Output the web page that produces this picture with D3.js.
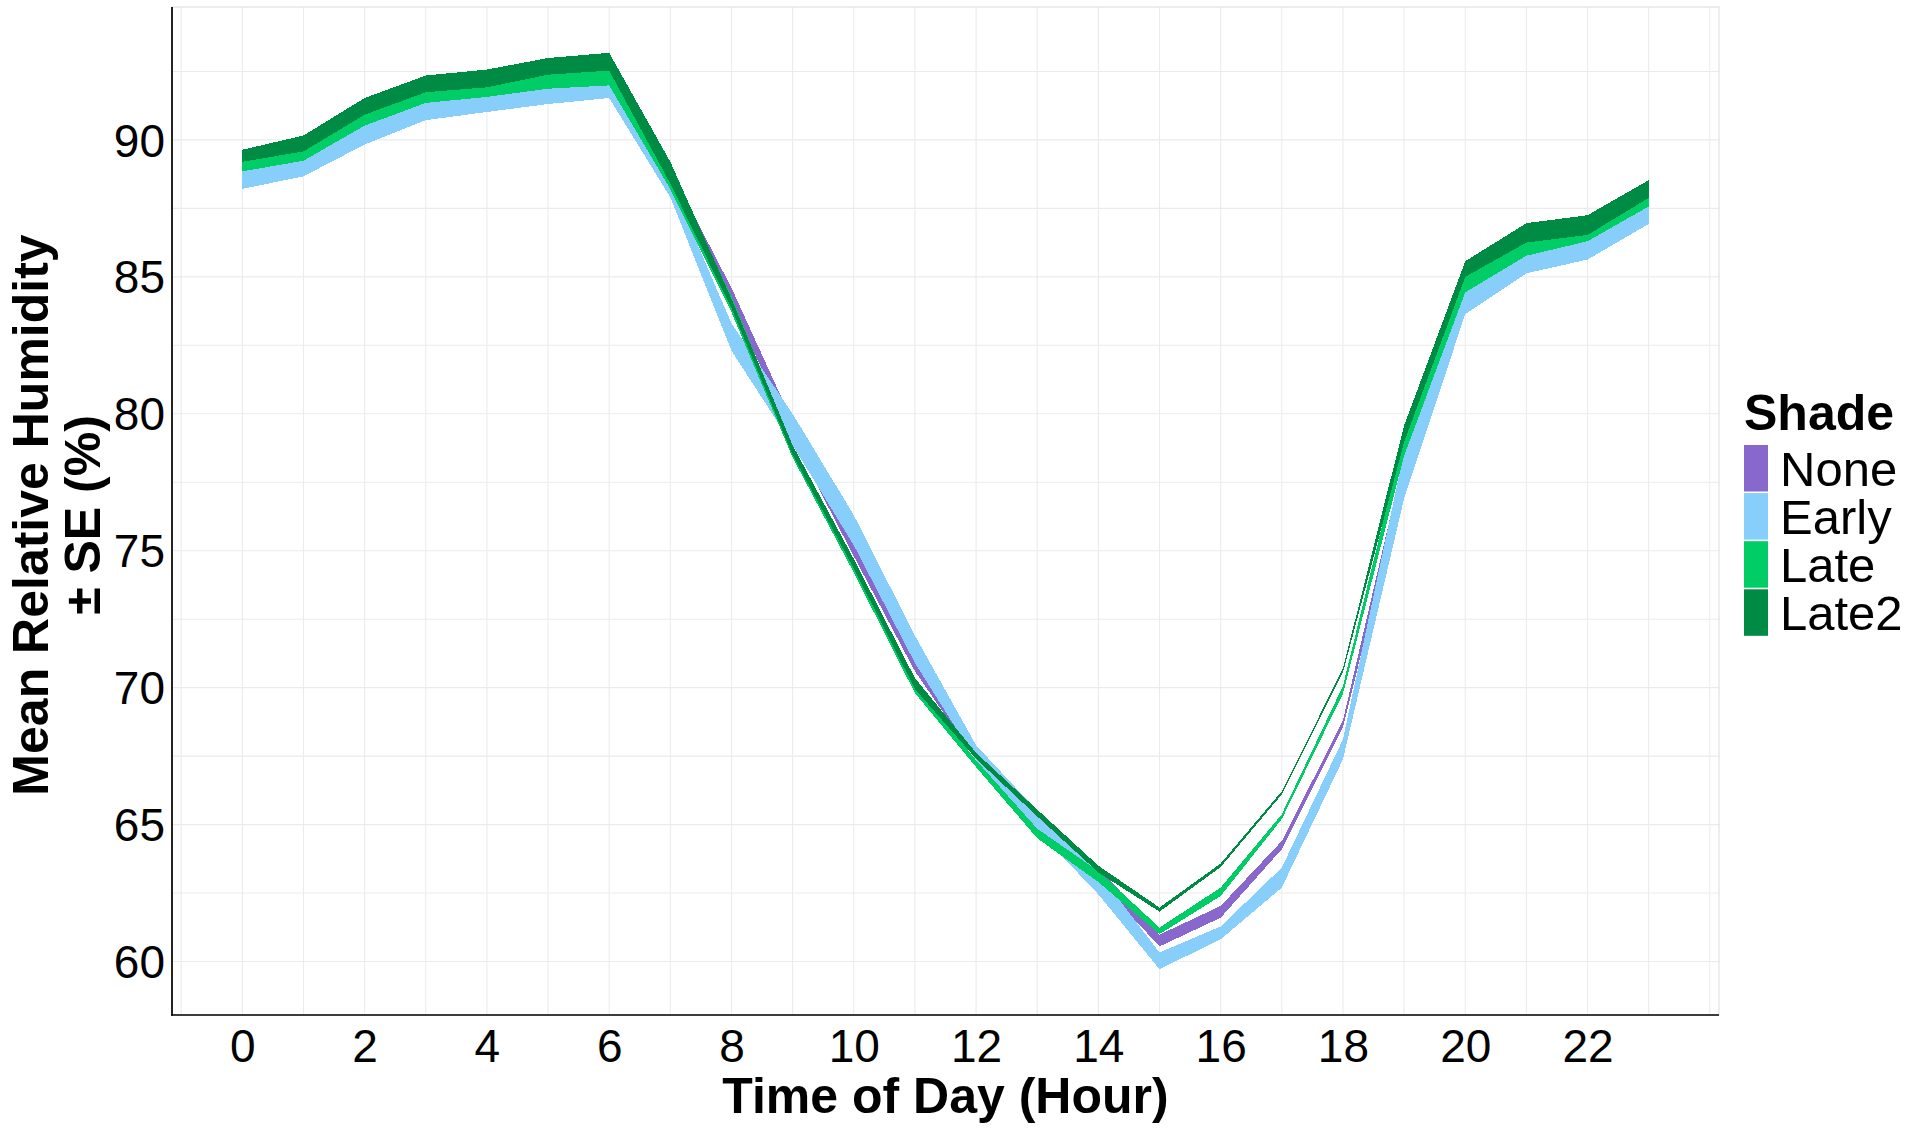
<!DOCTYPE html>
<html>
<head>
<meta charset="utf-8">
<script src="https://cdn.jsdelivr.net/npm/d3@7"></script>
<style>
  html, body { margin: 0; padding: 0; background: #ffffff; }
  svg { display: block; font-family: "Liberation Sans", Arial, sans-serif; }
</style>
</head>
<body>
<svg id="chart" width="1919" height="1128"></svg>
<script>
// ---- data ----
const hours = [0,1,2,3,4,5,6,7,8,9,10,11,12,13,14,15,16,17,18,19,20,21,22,23];
const seriesNames = ["None", "Early", "Late", "Late2"];
const seriesColors = ["#8968CD", "#87CEFA", "#00CD66", "#008B45"];

const noneLow   = [88.5, 88.9, 90.1, 91.0, 91.3, 91.6, 91.8, 88.3, 84.1, 79.1, 74.8, 70.6, 67.35, 65.0, 62.95, 60.55, 61.6, 64.1, 68.54, 77.6, 84.0, 85.4, 85.9, 87.2];
const noneHigh  = [89.1, 89.5, 90.8, 91.6, 91.8, 92.2, 92.4, 88.9, 84.6, 79.7, 75.4, 71.1, 67.75, 65.45, 63.45, 60.98, 62.03, 64.4, 68.8, 78.4, 84.6, 85.9, 86.4, 87.7];

const earlyLow  = [88.21, 88.67, 89.83, 90.72, 91.02, 91.31, 91.53, 87.9, 82.3, 78.85, 75.2, 70.9, 67.35, 64.8, 62.45, 59.72, 60.81, 62.7, 67.38, 76.9, 83.64, 85.13, 85.63, 86.93];
const earlyHigh = [89.0, 89.4, 90.7, 91.5, 91.75, 92.0, 92.2, 88.5, 83.3, 80.0, 76.3, 71.9, 67.9, 65.5, 63.25, 60.33, 61.28, 63.43, 68.11, 78.6, 84.6, 85.95, 86.45, 87.7];

const lateLow   = [88.85, 89.24, 90.52, 91.35, 91.57, 91.87, 91.99, 88.2, 83.7, 78.4, 74.2, 69.8, 67.1, 64.5, 62.9, 61.0, 62.39, 65.2, 69.78, 78.47, 84.43, 85.77, 86.3, 87.57];
const lateHigh  = [89.4, 89.8, 91.1, 91.95, 92.1, 92.55, 92.7, 88.9, 84.3, 78.75, 74.55, 70.15, 67.35, 64.85, 63.3, 61.24, 62.7, 65.38, 70.06, 79.2, 85.2, 86.45, 86.7, 88.05];

const late2Low  = [89.2, 89.58, 90.92, 91.74, 91.92, 92.38, 92.53, 88.4, 83.85, 78.5, 74.35, 69.95, 67.4, 65.3, 63.25, 61.82, 63.45, 66.1, 70.55, 78.96, 85.0, 86.25, 86.53, 87.88];
const late2High = [89.64, 90.16, 91.53, 92.35, 92.57, 92.99, 93.18, 89.2, 84.2, 78.85, 74.7, 70.35, 67.62, 65.55, 63.5, 61.97, 63.58, 66.22, 70.7, 79.57, 85.57, 86.96, 87.25, 88.53];

const xTickValues = [0,2,4,6,8,10,12,14,16,18,20,22];
const yTickValues = [60,65,70,75,80,85,90];
const xTitle = "Time of Day (Hour)";
const yTitleLines = ["Mean Relative Humidity", "\u00B1 SE (%)"];
const legendTitle = "Shade";

// ---- build table ----
const lows = [noneLow, earlyLow, lateLow, late2Low];
const highs = [noneHigh, earlyHigh, lateHigh, late2High];
const series = seriesNames.map((name, i) => ({
  name, color: seriesColors[i],
  values: hours.map((h, j) => ({ h, lo: lows[i][j], hi: highs[i][j] }))
}));

// ---- layout ----
const svg = d3.select("#chart");
const panel = { left: 172, right: 1719, top: 7, bottom: 1015 };

const xMin = d3.min(hours), xMax = d3.max(hours);
const xPad = (xMax - xMin) * 0.05;
const allLo = d3.min(lows.flat()), allHi = d3.max(highs.flat());
const yPad = (allHi - allLo) * 0.05;

const x = d3.scaleLinear().domain([xMin - xPad, xMax + xPad]).range([panel.left, panel.right]);
const y = d3.scaleLinear().domain([allLo - yPad, allHi + yPad]).range([panel.bottom, panel.top]);

// grid
const grid = svg.append("g");
const xGrid = d3.range(Math.ceil(x.domain()[0]), Math.floor(x.domain()[1]) + 1, 1);
const yGrid = d3.range(Math.ceil(y.domain()[0] / 2.5) * 2.5, y.domain()[1], 2.5);
grid.selectAll("line.v").data(xGrid).join("line")
  .attr("x1", d => x(d)).attr("x2", d => x(d))
  .attr("y1", panel.top).attr("y2", panel.bottom)
  .attr("stroke", "#ebebeb").attr("stroke-width", 1.1);
grid.selectAll("line.h").data(yGrid).join("line")
  .attr("y1", d => y(d)).attr("y2", d => y(d))
  .attr("x1", panel.left).attr("x2", panel.right)
  .attr("stroke", "#ebebeb").attr("stroke-width", 1.1);

// panel border
svg.append("rect")
  .attr("x", panel.left).attr("y", panel.top)
  .attr("width", panel.right - panel.left).attr("height", panel.bottom - panel.top)
  .attr("fill", "none").attr("stroke", "#dcdcdc").attr("stroke-width", 1);

// ribbons
const area = d3.area()
  .x(d => x(d.h))
  .y0(d => y(d.lo))
  .y1(d => y(d.hi))
  .curve(d3.curveLinear);

svg.append("g").selectAll("path").data(series).join("path")
  .attr("d", d => area(d.values))
  .attr("fill", d => d.color)
  .attr("shape-rendering", "crispEdges");

// axes
const xAxis = d3.axisBottom(x).tickValues(xTickValues).tickSize(0).tickPadding(14).tickFormat(d3.format("d"));
const yAxis = d3.axisLeft(y).tickValues(yTickValues).tickSize(0).tickPadding(7).tickFormat(d3.format("d"));

const gx = svg.append("g").attr("transform", `translate(0,${panel.bottom})`).call(xAxis);
const gy = svg.append("g").attr("transform", `translate(${panel.left},0)`).call(yAxis);
[gx, gy].forEach(g => {
  g.select(".domain").remove();
  g.selectAll("text").attr("font-size", 46).attr("fill", "#000")
    .attr("font-family", "'Liberation Sans', Arial, sans-serif");
});
gx.selectAll("text").attr("dy", "0.71em");
gy.selectAll("text").attr("dy", "0.35em");

// axis lines
svg.append("line").attr("x1", panel.left).attr("x2", panel.left)
  .attr("y1", panel.top).attr("y2", panel.bottom + 0.8)
  .attr("stroke", "#000").attr("stroke-width", 1.7);
svg.append("line").attr("x1", panel.left - 0.8).attr("x2", panel.right)
  .attr("y1", panel.bottom).attr("y2", panel.bottom)
  .attr("stroke", "#000").attr("stroke-width", 1.7);

// axis titles
svg.append("text")
  .attr("x", (panel.left + panel.right) / 2).attr("y", 1113)
  .attr("text-anchor", "middle").attr("font-size", 50).attr("font-weight", "bold")
  .text(xTitle);

const yt = svg.append("text")
  .attr("transform", `translate(0,${(panel.top + panel.bottom) / 2 + 4}) rotate(-90)`)
  .attr("text-anchor", "middle").attr("font-size", 50).attr("font-weight", "bold");
yt.append("tspan").attr("x", 0).attr("y", 48).text(yTitleLines[0]);
yt.append("tspan").attr("x", 0).attr("y", 100).text(yTitleLines[1]);

// legend
const lg = svg.append("g");
lg.append("text").attr("x", 1744).attr("y", 430)
  .attr("font-size", 50).attr("font-weight", "bold").text(legendTitle);
const keyTop = 445, keyH = 46.5, keyPitch = 48.1;
const items = lg.selectAll("g.item").data(series).join("g")
  .attr("transform", (d, i) => `translate(1744,${keyTop + i * keyPitch})`);
items.append("rect").attr("width", 24).attr("height", keyH).attr("fill", d => d.color);
items.append("text").attr("x", 36).attr("y", keyH / 2).attr("dy", "0.36em")
  .attr("font-size", 49).text(d => d.name);
</script>
</body>
</html>
